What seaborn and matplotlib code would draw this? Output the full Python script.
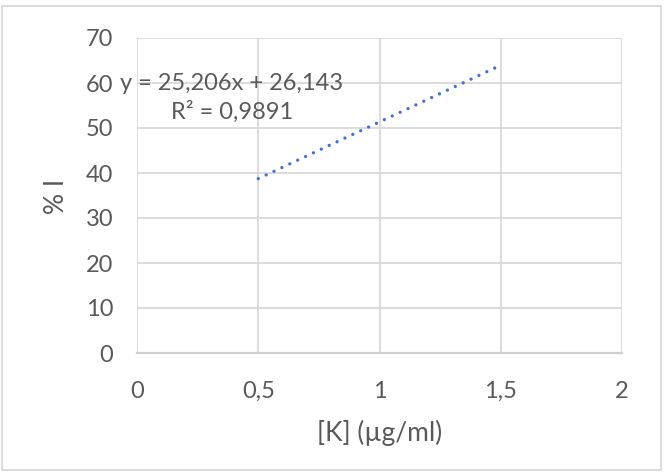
import matplotlib
matplotlib.use("Agg")
import matplotlib.pyplot as plt
import seaborn as sns
import pandas as pd
from matplotlib.patches import Rectangle

# Data (trendline)
trend_x = [0.5, 1.5]
trend_y = [38.75, 63.95]
equation_text = "y = 25,206x + 26,143"
r2_text = "R² = 0,9891"
x_ticks = [0, 0.5, 1, 1.5, 2]
x_tick_labels = ["0", "0,5", "1", "1,5", "2"]
y_ticks = [0, 10, 20, 30, 40, 50, 60, 70]
x_label = "[K] (µg/ml)"
y_label = "% I"

sns.set_theme(style="whitegrid")
plt.rcParams['font.family'] = ['Lato', 'DejaVu Sans']

text_color = "#595959"
grid_color = "#D9D9D9"

fig = plt.figure(figsize=(6.66, 4.76), dpi=100)
ax = fig.add_axes([137/666, 1-353/476, (622-137)/666, (353-38)/476])

df = pd.DataFrame({"x": trend_x, "y": trend_y})
sns.lineplot(data=df, x="x", y="y", ax=ax, color="#4472C4", linewidth=2.4,
             linestyle=(0, (0.01, 2.6)))
for l in ax.lines:
    l.set_dash_capstyle("round")

ax.set_xlim(0, 2)
ax.set_ylim(0, 70)
ax.set_xticks(x_ticks)
ax.set_xticklabels(x_tick_labels)
ax.set_yticks(y_ticks)
ax.grid(True, color=grid_color, linewidth=1.3)
for s in ["top", "right", "left"]:
    ax.spines[s].set_visible(False)
ax.spines["bottom"].set_visible(True)
ax.spines["bottom"].set_color("#D0D0D0")
ax.spines["bottom"].set_linewidth(1.6)
ax.tick_params(axis="both", colors=text_color, labelsize=17, length=0)
ax.tick_params(axis="x", pad=20)
ax.tick_params(axis="y", pad=17)
ax.set_xlabel("")
ax.set_ylabel("")

fig.text(380/666, 1-433/476, x_label, color=text_color, fontsize=19,
         ha="center", va="center")
fig.text(57/666, 1-196/476, y_label, color=text_color, fontsize=19,
         ha="center", va="center", rotation=90)

fig.text(232/666, 1-83/476, equation_text, color=text_color, fontsize=17,
         ha="center", va="center")
fig.text(232/666, 1-112/476, r2_text, color=text_color, fontsize=17,
         ha="center", va="center")

fig.patches.append(Rectangle((2/666, 6/476), 659/666, 464/476, transform=fig.transFigure,
                             fill=False, edgecolor="#D9D9D9", linewidth=1.3))

fig.savefig("out.png", dpi=100, facecolor="white")
